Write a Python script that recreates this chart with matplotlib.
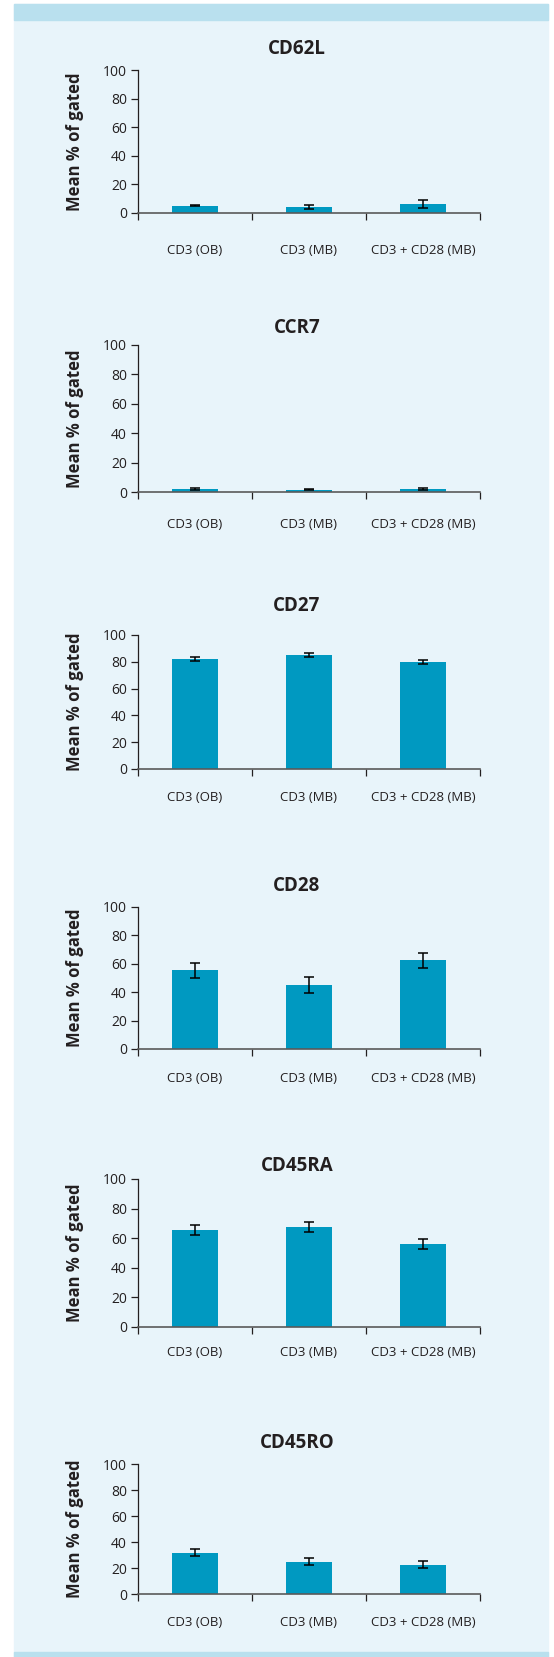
"""Mean % of gated cells per surface marker, six stacked bar panels."""

import matplotlib
matplotlib.use("Agg")
import matplotlib.pyplot as plt
from matplotlib.patches import Rectangle

CATEGORIES = ["CD3 (OB)", "CD3 (MB)", "CD3 + CD28 (MB)"]
MARKERS = ["CD62L", "CCR7", "CD27", "CD28", "CD45RA", "CD45RO"]

CD62L_MEAN = [5.2, 4.0, 6.1]
CD62L_ERR = [0.4, 1.4, 2.7]
CCR7_MEAN = [1.8, 1.7, 1.8]
CCR7_ERR = [0.6, 0.6, 0.6]
CD27_MEAN = [82.1, 85.1, 79.9]
CD27_ERR = [1.6, 1.6, 1.7]
CD28_MEAN = [55.5, 45.0, 62.5]
CD28_ERR = [5.2, 5.4, 5.3]
CD45RA_MEAN = [65.6, 67.6, 56.1]
CD45RA_ERR = [3.6, 3.6, 3.6]
CD45RO_MEAN = [31.7, 24.8, 22.5]
CD45RO_ERR = [2.8, 2.8, 2.7]

Y_TICKS = [0, 20, 40, 60, 80, 100]
Y_LABEL = "Mean % of gated"

MEANS = [CD62L_MEAN, CCR7_MEAN, CD27_MEAN, CD28_MEAN, CD45RA_MEAN, CD45RO_MEAN]
ERRS = [CD62L_ERR, CCR7_ERR, CD27_ERR, CD28_ERR, CD45RA_ERR, CD45RO_ERR]

# layout in pixels of the 554 x 1657 output
W, H = 554, 1657
AX_LEFT, AX_RIGHT = 138, 480
AX_TOP = [70, 345, 635, 907, 1179, 1464]
AX_BOTTOM = [213, 492, 769, 1049, 1327, 1594]
TITLE_Y = [49, 328, 606, 886, 1166, 1443]
CAT_Y = [250, 524, 798, 1078, 1353, 1623]

BAR_COLOR = "#0099c1"
PANEL_BG = "#e8f4fa"
BAND = "#b9e0ee"
INK = "#231f20"
FONT = "Open Sans"


def fx(x):
    return x / W


def fy(y):
    return 1 - y / H


def main():
    plt.rcParams["font.family"] = [FONT, "DejaVu Sans"]
    fig = plt.figure(figsize=(W / 100, H / 100), dpi=100)
    fig.patch.set_facecolor("white")

    # page background and the two header/footer bands
    fig.add_artist(Rectangle((fx(14), 0), fx(548 - 14), 1 - 4 / H,
                             transform=fig.transFigure, color=PANEL_BG, zorder=0))
    fig.add_artist(Rectangle((fx(14), fy(20)), fx(548 - 14), 16 / H,
                             transform=fig.transFigure, color=BAND, zorder=0))
    fig.add_artist(Rectangle((fx(14), 0), fx(548 - 14), 5 / H,
                             transform=fig.transFigure, color=BAND, zorder=0))

    xs = list(range(len(CATEGORIES)))
    step = (AX_RIGHT - AX_LEFT) / len(CATEGORIES)
    for i, marker in enumerate(MARKERS):
        top, bottom = AX_TOP[i], AX_BOTTOM[i]
        ax = fig.add_axes([fx(AX_LEFT), fy(bottom), fx(AX_RIGHT - AX_LEFT),
                           (bottom - top) / H])
        ax.set_facecolor("none")
        ax.bar(xs, MEANS[i], width=0.40, color=BAR_COLOR, zorder=2)
        ax.errorbar(xs, MEANS[i], yerr=ERRS[i], fmt="none", ecolor="black",
                    elinewidth=1.1, capsize=3.3, capthick=1.1, zorder=3)

        ax.set_xlim(-0.5, 2.5)
        ax.set_ylim(0, 100)
        ax.set_yticks(Y_TICKS)
        ax.set_xticks([-0.5, 0.5, 1.5, 2.5])
        ax.set_xticklabels([])
        ax.tick_params(axis="y", direction="out", length=5, width=0.9,
                       labelsize=10, pad=3, colors=INK)
        ax.tick_params(axis="x", direction="out", length=5, width=0.9,
                       color=INK)
        for side in ("top", "right"):
            ax.spines[side].set_visible(False)
        ax.spines["left"].set_color(INK)
        ax.spines["left"].set_linewidth(0.9)
        ax.spines["bottom"].set_color("#5a5a5a")
        ax.spines["bottom"].set_linewidth(1.2)

        # category names sit well below the axis, on their own row
        for x, cat in zip(xs, CATEGORIES):
            xpix = AX_LEFT + (x + 0.5) * step
            fig.text(fx(xpix), fy(CAT_Y[i]), cat, ha="center", va="center",
                     fontsize=9.5, color=INK)

        fig.text(fx(297), fy(TITLE_Y[i]), marker, ha="center", va="center",
                 fontsize=13.5, fontweight="bold", color=INK)
        fig.text(fx(75), fy((top + bottom) / 2), Y_LABEL, rotation=90,
                 ha="center", va="center", fontsize=12, fontweight="bold",
                 color=INK)

    fig.savefig("out.png", dpi=100)
    plt.close(fig)


if __name__ == "__main__":
    main()
